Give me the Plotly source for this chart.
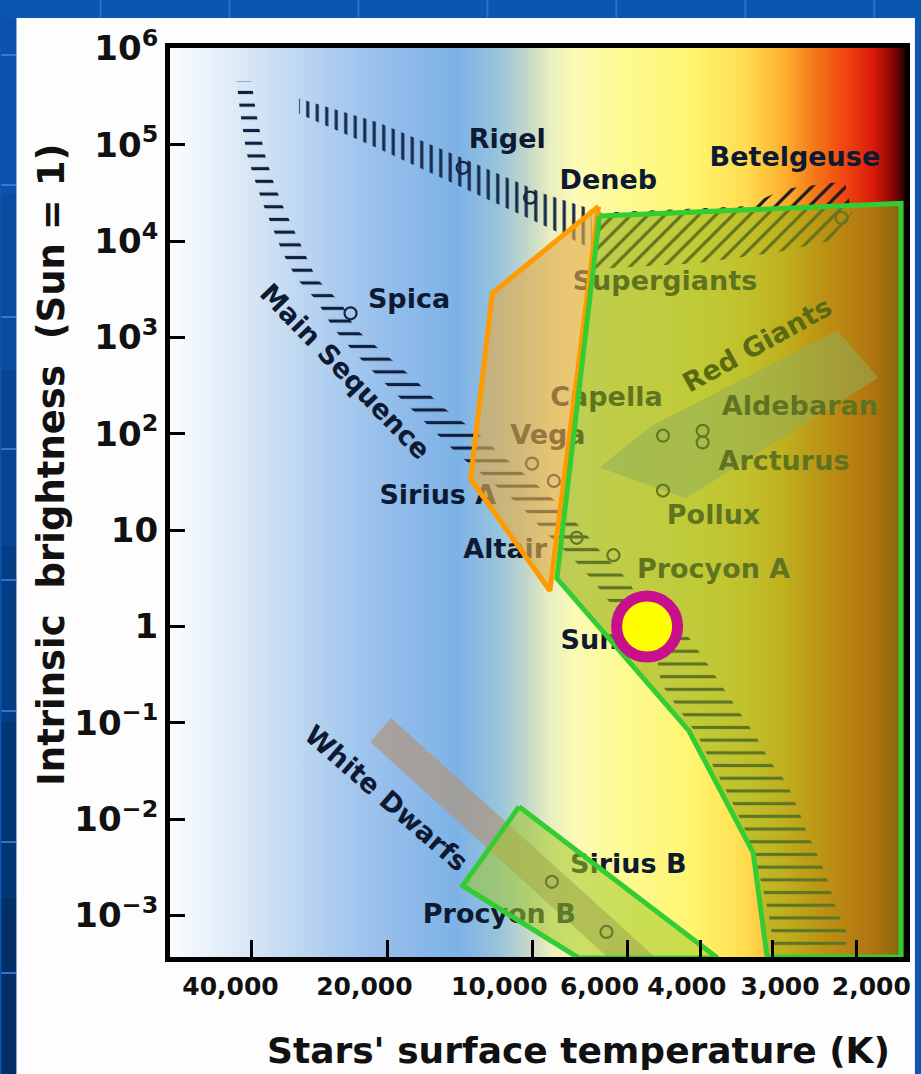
import plotly.graph_objects as go

# ---------------- data (x = position on the temperature scale, y = log10 brightness) ----------------
x_tick_pos = [252, 389, 535, 631, 705, 777, 862]
x_label_pos = [231, 366, 502, 603, 691, 785, 877]
x_tick_text = ["40,000", "20,000", "10,000", "6,000", "4,000", "3,000", "2,000"]
y_tick_vals = [-3, -2, -1, 0, 1, 2, 3, 4, 5, 6]
y_tick_text = ["10<sup>−3</sup>", "10<sup>−2</sup>", "10<sup>−1</sup>", "1", "10",
               "10<sup>2</sup>", "10<sup>3</sup>", "10<sup>4</sup>", "10<sup>5</sup>", "10<sup>6</sup>"]

star_names = ["Rigel", "Deneb", "Betelgeuse", "Spica", "Vega", "Sirius A", "Altair", "Procyon A",
              "Capella", "Aldebaran", "Arcturus", "Pollux", "Sirius B", "Procyon B"]
star_x = [465, 533, 847, 352, 535, 557, 580, 617, 667, 707, 707, 667, 555, 610]
star_logl = [4.76, 4.45, 4.24, 3.25, 1.69, 1.51, 0.92, 0.74, 1.98, 2.03, 1.91, 1.41, -2.65, -3.17]

label_text = ["Rigel", "Deneb", "Betelgeuse", "Spica", "Supergiants", "Capella", "Aldebaran", "Vega",
              "Arcturus", "Sirius A", "Pollux", "Altair", "Procyon A", "Sun", "Sirius B", "Procyon B"]
label_x = [510, 612, 800, 411, 669, 610, 805, 551, 789, 440, 718, 508, 718, 593, 632, 502]
label_y = [5.04, 4.61, 4.85, 3.38, 3.56, 2.36, 2.26, 1.96, 1.69, 1.34, 1.13, 0.78, 0.57, -0.16, -2.49, -3.01]

# main sequence band outline (left edge top->bottom, right edge bottom->top)
ms_left_x = [237, 241, 247, 255, 264, 273, 283, 297, 318, 335, 357, 383, 410, 435, 460, 490, 523, 547,
             573, 597, 617, 645, 660, 665, 683, 702, 715, 727, 740, 752, 760, 767, 773, 777, 780]
ms_left_y = [5.66, 5.32, 4.92, 4.65, 4.38, 4.15, 3.89, 3.62, 3.38, 3.09, 2.83, 2.56, 2.29, 2.03, 1.79,
             1.53, 1.26, 0.99, 0.74, 0.47, 0.20, -0.04, -0.25, -0.59, -0.86, -1.13, -1.40, -1.63,
             -1.89, -2.16, -2.42, -2.69, -2.95, -3.20, -3.38]
ms_right_x = [850, 853, 842, 835, 825, 813, 803, 792, 775, 760, 742, 725, 708, 690, 660, 645, 633, 607,
              587, 563, 533, 503, 477, 443, 417, 387, 357, 343, 317, 305, 293, 283, 273, 265, 257, 252]
ms_right_y = [-3.38, -3.20, -2.95, -2.69, -2.42, -2.16, -1.89, -1.63, -1.40, -1.13, -0.86, -0.59,
              -0.33, -0.07, 0.11, 0.20, 0.47, 0.74, 0.99, 1.26, 1.53, 1.79, 2.03, 2.29, 2.56, 2.83,
              3.09, 3.35, 3.62, 3.89, 4.15, 4.38, 4.65, 4.92, 5.32, 5.66]

sg_hot_x = [300, 380, 467, 547, 595, 595, 547, 467, 380, 300]
sg_hot_y = [5.48, 5.23, 4.85, 4.49, 4.33, 3.92, 4.16, 4.54, 4.96, 5.32]
sg_cool_x = [598, 750, 790, 850, 858, 835, 780, 700, 598]
sg_cool_y = [4.29, 4.36, 4.54, 4.62, 4.29, 4.00, 3.88, 3.77, 3.71]

rg_x = [603, 655, 843, 884, 690]
rg_y = [1.65, 2.08, 3.07, 2.58, 1.33]
wd_x = [393, 372, 612, 660]
wd_y = [-0.95, -1.20, -3.44, -3.44]

orange_x = [602, 495, 473, 553, 602]
orange_y = [4.36, 3.46, 1.53, 0.37, 4.36]
giant_x = [603, 907, 907, 772, 758, 693, 560, 603]
giant_y = [4.26, 4.39, -3.43, -3.43, -2.35, -1.08, 0.50, 4.26]
dwarf_x = [522, 465, 582, 722, 522]
dwarf_y = [-1.87, -2.69, -3.44, -3.44, -1.87]

sun_x, sun_logl = 651, 0.0

# background colour ramp across the temperature scale
grad_pos = [170, 250, 300, 350, 400, 460, 500, 530, 555, 580, 620, 700, 750, 790, 820, 850, 880, 900, 911]
grad_col = ["rgb(250,252,255)", "rgb(215,230,245)", "rgb(190,215,240)", "rgb(165,200,238)",
            "rgb(145,188,235)", "rgb(125,178,230)", "rgb(150,195,220)", "rgb(195,215,200)",
            "rgb(235,240,190)", "rgb(252,250,180)", "rgb(252,250,150)", "rgb(255,245,110)",
            "rgb(255,220,80)", "rgb(252,175,45)", "rgb(245,120,25)", "rgb(240,70,15)",
            "rgb(215,25,10)", "rgb(130,5,5)", "rgb(40,0,0)"]

X0, X1 = 170, 911
Y0, Y1 = -3.43, 6.0

NAVY = "#0e1a32"
FONT = "DejaVu Sans"


def fx(p):
    return (p - 170) / 741


def fy(p):
    return (957 - p) / 909


fig = go.Figure()

scale = [[(p - grad_pos[0]) / (grad_pos[-1] - grad_pos[0]), c] for p, c in zip(grad_pos, grad_col)]
fig.add_trace(go.Scatter(x=[X0, X1, X1, X0, X0], y=[Y0 - 0.1, Y0 - 0.1, Y1 + 0.1, Y1 + 0.1, Y0 - 0.1],
                         mode="lines", line=dict(width=0), fill="toself",
                         fillgradient=dict(type="horizontal", colorscale=scale),
                         hoverinfo="skip", showlegend=False))

# white dwarf and red giant bands
fig.add_trace(go.Scatter(x=wd_x + wd_x[:1], y=wd_y + wd_y[:1], mode="lines", line=dict(width=0),
                         fill="toself", fillcolor="rgba(175,150,125,0.7)", showlegend=False))
fig.add_trace(go.Scatter(x=rg_x + rg_x[:1], y=rg_y + rg_y[:1], mode="lines", line=dict(width=0),
                         fill="toself", fillcolor="rgba(140,175,190,0.55)", showlegend=False))

# hatched bands
fig.add_trace(go.Scatter(x=ms_left_x + ms_right_x, y=ms_left_y + ms_right_y, mode="lines",
                         line=dict(width=0), fill="toself", fillcolor="rgba(0,0,0,0)",
                         fillpattern=dict(shape="-", fgcolor="#0f1f3d", size=12.7, solidity=0.25,
                                          fillmode="replace"), showlegend=False))
fig.add_trace(go.Scatter(x=sg_hot_x + sg_hot_x[:1], y=sg_hot_y + sg_hot_y[:1], mode="lines",
                         line=dict(width=0), fill="toself", fillcolor="rgba(0,0,0,0)",
                         fillpattern=dict(shape="|", fgcolor="#14284a", size=9.5, solidity=0.33,
                                          fillmode="replace"), showlegend=False))
fig.add_trace(go.Scatter(x=sg_cool_x + sg_cool_x[:1], y=sg_cool_y + sg_cool_y[:1], mode="lines",
                         line=dict(width=0), fill="toself", fillcolor="rgba(0,0,0,0)",
                         fillpattern=dict(shape="/", fgcolor="#1a1a22", size=12, solidity=0.26,
                                          fillmode="replace"), showlegend=False))

# stars and their names
fig.add_trace(go.Scatter(x=star_x, y=star_logl, mode="markers", text=star_names,
                         marker=dict(symbol="circle-open", size=12, color="#16243f", line=dict(width=2.2)),
                         showlegend=False))
fig.add_trace(go.Scatter(x=label_x, y=label_y, mode="text", text=label_text,
                         textfont=dict(family=FONT, size=27, color=NAVY, weight="bold"),
                         showlegend=False, hoverinfo="skip"))

# highlighted regions
fig.add_trace(go.Scatter(x=orange_x, y=orange_y, mode="lines", line=dict(color="#ff9a00", width=5),
                         fill="toself", fillcolor="rgba(226,170,74,0.64)", showlegend=False))
fig.add_trace(go.Scatter(x=giant_x, y=giant_y, mode="lines", line=dict(color="#33cc33", width=5),
                         fill="toself", fillcolor="rgba(150,175,20,0.6)", showlegend=False))
fig.add_trace(go.Scatter(x=dwarf_x, y=dwarf_y, mode="lines", line=dict(color="#33cc33", width=5),
                         fill="toself", fillcolor="rgba(160,200,40,0.55)", showlegend=False))

# the Sun
fig.add_trace(go.Scatter(x=[sun_x], y=[sun_logl], mode="markers",
                         marker=dict(size=61, color="#ffff00", line=dict(color="#c8108c", width=11)),
                         cliponaxis=False, showlegend=False))

annotations = [
    dict(x=347, y=2.65, xref="x", yref="y", text="Main Sequence", textangle=46, showarrow=False,
         xanchor="center", yanchor="middle", font=dict(family=FONT, size=27, color=NAVY, weight="bold")),
    dict(x=389, y=-1.78, xref="x", yref="y", text="White Dwarfs", textangle=41, showarrow=False,
         xanchor="center", yanchor="middle", font=dict(family=FONT, size=27, color=NAVY, weight="bold")),
    dict(x=762, y=2.93, xref="x", yref="y", text="Red Giants", textangle=-29, showarrow=False,
         xanchor="center", yanchor="middle",
         font=dict(family=FONT, size=27, color="#5a6a12", weight="bold")),
    dict(x=fx(50), y=fy(465), xref="paper", yref="paper", text="Intrinsic  brightness  (Sun = 1)",
         textangle=-90, showarrow=False, xanchor="center", yanchor="middle",
         font=dict(family=FONT, size=37, color="#111", weight="bold")),
    dict(x=fx(582), y=fy(1050), xref="paper", yref="paper", text="Stars' surface temperature (K)",
         showarrow=False, xanchor="center", yanchor="middle",
         font=dict(family=FONT, size=36, color="#111", weight="bold")),
]

shapes = [dict(type="rect", xref="paper", yref="paper", x0=fx(15), x1=fx(921), y0=fy(1074), y1=fy(18),
               fillcolor="#fdfdfd", line=dict(width=0), layer="below")]
strip_cols = ["#0b52ac", "#0a4c9f", "#074592", "#053d84", "#043676", "#022f68"]
for i, c in enumerate(strip_cols):
    shapes.append(dict(type="rect", xref="paper", yref="paper", x0=fx(0), x1=fx(15),
                       y0=fy(18 + (i + 1) * 176), y1=fy(18 + i * 176), fillcolor=c,
                       line=dict(width=0), layer="below"))
for yy in [55, 185, 317, 449, 580, 711, 842, 973]:
    shapes.append(dict(type="line", xref="paper", yref="paper", x0=fx(0), x1=fx(15), y0=fy(yy), y1=fy(yy),
                       line=dict(color="rgba(70,130,210,0.8)", width=2), layer="below"))
for xx in [100, 230, 360, 490, 620, 750, 880]:
    shapes.append(dict(type="line", xref="paper", yref="paper", x0=fx(xx), x1=fx(xx), y0=fy(0), y1=fy(18),
                       line=dict(color="rgba(70,130,210,0.6)", width=2), layer="below"))

fig.update_layout(
    width=921, height=1074,
    margin=dict(l=170, r=10, t=48, b=117),
    paper_bgcolor="#0b56b0", plot_bgcolor="rgba(0,0,0,0)",
    showlegend=False, annotations=annotations, shapes=shapes,
    xaxis=dict(range=[X0, X1], tickvals=x_label_pos, ticktext=x_tick_text, ticks="", tickangle=0,
               minor=dict(tickvals=x_tick_pos, ticks="inside", ticklen=17, tickwidth=2.5,
                          tickcolor="black", showgrid=False),
               showline=True, linewidth=5, linecolor="black", ticklabelstandoff=3,
               mirror=True, showgrid=False, zeroline=False,
               tickfont=dict(family=FONT, size=25, color="#111", weight="bold")),
    yaxis=dict(range=[Y0, Y1 + 0.003], tickvals=y_tick_vals, ticktext=y_tick_text, ticks="inside",
               ticklen=15, tickwidth=2.5, tickcolor="black", showline=True, linewidth=5,
               linecolor="black", mirror=True, showgrid=False, zeroline=False,
               tickfont=dict(family=FONT, size=34, color="#111", weight="bold")),
)

fig.write_html("out.html", config={"displayModeBar": False},
               post_script="document.body.style.margin='0';")
